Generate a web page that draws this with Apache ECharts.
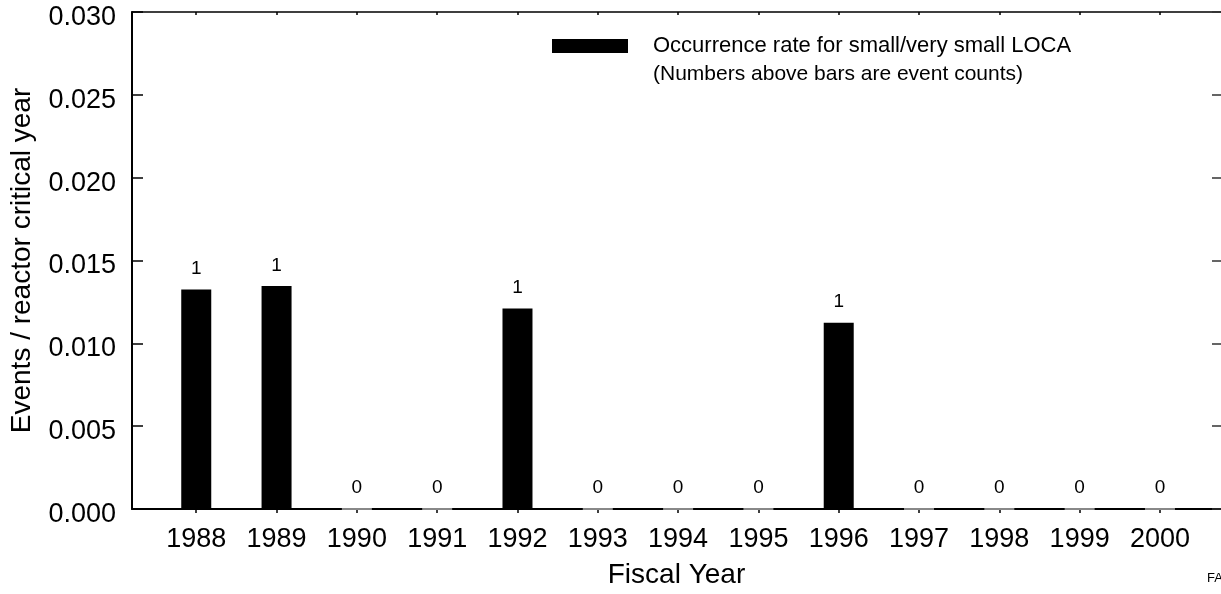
<!DOCTYPE html>
<html>
<head>
<meta charset="utf-8">
<script src="https://cdn.jsdelivr.net/npm/echarts@6/dist/echarts.min.js"></script>
<style>
html,body{margin:0;padding:0;background:#fff;}
#chart{width:1221px;height:594px;}
</style>
</head>
<body>
<div id="chart"></div>
<script>
const years = [1988, 1989, 1990, 1991, 1992, 1993, 1994, 1995, 1996, 1997, 1998, 1999, 2000];
const rates = [0.01325, 0.01346, 0, 0, 0.01211, 0, 0, 0, 0.01125, 0, 0, 0, 0];
const counts = [1, 1, 0, 0, 1, 0, 0, 0, 1, 0, 0, 0, 0];
const seriesName = 'Occurrence rate for small/very small LOCA';
const noteText = '(Numbers above bars are event counts)';
const xTitle = 'Fiscal Year';
const yTitle = 'Events / reactor critical year';

const FONT = '"Liberation Sans", Arial, sans-serif';
const chart = echarts.init(document.getElementById('chart'), null, {renderer: 'canvas'});

const data = years.map((y, i) => ({
  value: [y, rates[i]],
  itemStyle: rates[i] === 0 ? {color: '#888', borderColor: '#888', borderWidth: 2} : {color: '#000'}
}));

chart.setOption({
  animation: false,
  backgroundColor: '#fff',
  textStyle: {fontFamily: FONT, color: '#000'},
  grid: {left: 131, right: 0, top: 12, bottom: 85},
  legend: {
    left: 552, top: 35, padding: 0,
    itemWidth: 76, itemHeight: 14, icon: 'rect',
    data: [seriesName],
    textStyle: {fontSize: 22, color: '#000', fontFamily: FONT, padding: [0, 0, 0, 20]}
  },
  graphic: [
    {type: 'text', left: 653, top: 64, style: {text: noteText, fill: '#000', font: '21px "Liberation Sans", Arial, sans-serif'}},
    {type: 'text', left: 1207, top: 572, style: {text: 'FA', fill: '#000', font: '13px "Liberation Sans", Arial, sans-serif'}}
  ],
  xAxis: [
    {
      type: 'value', position: 'bottom', min: 1987.2, max: 2000.76,
      name: xTitle, nameLocation: 'middle', nameGap: 52,
      nameTextStyle: {fontSize: 28, color: '#000', fontFamily: FONT},
      axisLine: {show: true, onZero: false, lineStyle: {color: '#000', width: 2}},
      axisTick: {show: true, customValues: years, length: 4, lineStyle: {color: '#000', width: 1.5}},
      axisLabel: {customValues: years, fontSize: 27, color: '#000', margin: 17, fontFamily: FONT, formatter: v => String(v)},
      splitLine: {show: false}
    },
    {
      type: 'value', position: 'top', min: 1987.2, max: 2000.76,
      axisLine: {show: true, onZero: false, lineStyle: {color: '#000', width: 1.5}},
      axisTick: {show: true, inside: true, customValues: years, length: 3, lineStyle: {color: '#000', width: 1.5}},
      axisLabel: {show: false},
      splitLine: {show: false}
    }
  ],
  yAxis: [
    {
      type: 'value', position: 'left', min: 0, max: 0.03, interval: 0.005,
      name: yTitle, nameLocation: 'middle', nameGap: 96,
      nameTextStyle: {fontSize: 28, color: '#000', fontFamily: FONT},
      axisLine: {show: true, onZero: false, lineStyle: {color: '#000', width: 2}},
      axisTick: {show: true, inside: true, length: 11, lineStyle: {color: '#000', width: 1.5}},
      axisLabel: {
        margin: 16, color: '#000', fontFamily: FONT,
        formatter: v => '{a|' + v.toFixed(3) + '}',
        rich: {a: {fontSize: 27, color: '#000', fontFamily: FONT, padding: [11, 0, 0, 0]}}
      },
      splitLine: {show: false}
    },
    {
      type: 'value', position: 'right', min: 0, max: 0.03, interval: 0.005,
      axisLine: {show: false},
      axisTick: {show: true, inside: true, length: 9, lineStyle: {color: '#333', width: 1.5}},
      axisLabel: {show: false},
      splitLine: {show: false}
    }
  ],
  series: [
    {
      name: seriesName, type: 'bar', xAxisIndex: 0, yAxisIndex: 0,
      barWidth: 30,
      itemStyle: {color: '#000'},
      data: data,
      label: {
        show: true, position: 'top', distance: 11,
        fontSize: 19, color: '#000', fontFamily: FONT,
        formatter: p => String(counts[p.dataIndex])
      }
    }
  ]
});
</script>
</body>
</html>
